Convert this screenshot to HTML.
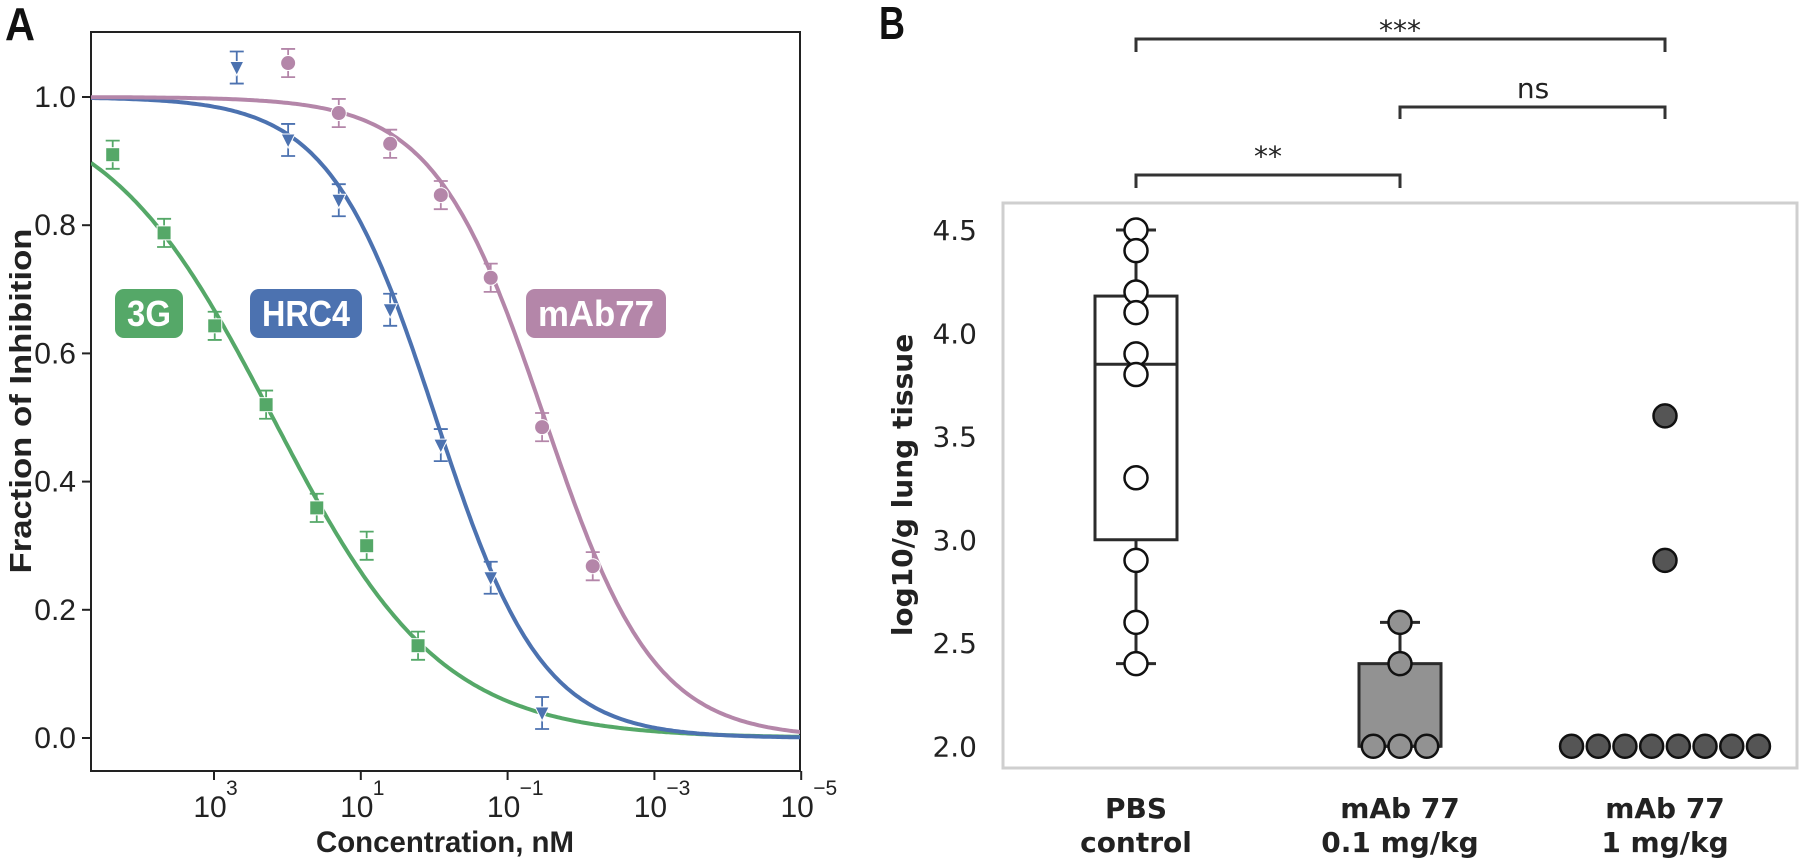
<!DOCTYPE html>
<html><head><meta charset="utf-8"><style>
html,body{margin:0;padding:0;background:#fff;}
svg{display:block;}
.nar{font-family:"Liberation Sans Narrow","Liberation Sans",sans-serif;}
.dv{font-family:"DejaVu Sans","Liberation Sans",sans-serif;}
</style></head><body>
<svg id="fig" width="1800" height="859" viewBox="0 0 1800 859" xmlns="http://www.w3.org/2000/svg">
<g id="panelA"></g>
<g id="panelB"></g>
</svg>
<script>
// ---------- Panel A data ----------
const seriesNames = ["3G", "HRC4", "mAb77"];
const logConc3G = [4.38, 3.68, 2.99, 2.29, 1.60, 0.92, 0.22];
const inhib3G = [0.91, 0.788, 0.643, 0.52, 0.359, 0.30, 0.144];
const logConcHRC4 = [2.69, 1.99, 1.30, 0.60, -0.09, -0.77, -1.47];
const inhibHRC4 = [1.046, 0.933, 0.839, 0.668, 0.457, 0.25, 0.039];
const logConcMAb = [1.99, 1.30, 0.60, -0.09, -0.77, -1.47, -2.16];
const inhibMAb = [1.053, 0.975, 0.927, 0.847, 0.718, 0.485, 0.268];
const errA = [0.022, 0.025, 0.022];
const fitLogIC50 = [2.2, -0.02, -1.5];
const fitHill = [0.38, 0.6, 0.58];
const yTicksA = [0.0, 0.2, 0.4, 0.6, 0.8, 1.0];
const xTickExpA = [3, 1, -1, -3, -5];

// ---------- Panel B data ----------
const groupsB = [["PBS", "control"], ["mAb 77", "0.1 mg/kg"], ["mAb 77", "1 mg/kg"]];
const pbsVals = [4.5, 4.4, 4.2, 4.1, 3.9, 3.8, 3.3, 2.9, 2.6, 2.4];
const pbsBox = [2.4, 3.0, 3.85, 4.18, 4.5];
const low77Vals = [2.6, 2.4, 2.0, 2.0, 2.0];
const low77Box = [2.0, 2.0, 2.0, 2.4, 2.6];
const high77Vals = [3.6, 2.9, 2.0, 2.0, 2.0, 2.0, 2.0, 2.0, 2.0, 2.0];
const yTicksB = [2.0, 2.5, 3.0, 3.5, 4.0, 4.5];
const sigLabels = ["**", "ns", "***"];

const NS = "http://www.w3.org/2000/svg";
function mk(parent, tag, attrs, text) {
  const e = document.createElementNS(NS, tag);
  for (const k in attrs) e.setAttribute(k, attrs[k]);
  if (text !== undefined) e.textContent = text;
  parent.appendChild(e);
  return e;
}

// ===== Panel A =====
const A = document.getElementById('panelA');
const aL = 91, aR = 800, aT = 32, aB = 771;
const xA = lg => 214 + (3 - lg) * 73.4;
const yA = v => 738 - v * 641;
const colors = ["#55a868", "#4c72b0", "#b486a9"];

let t = mk(A, 'text', {x: 5, y: 40, 'font-size': 46, 'font-weight': 'bold', class: 'nar', fill: '#111', textLength: 30, lengthAdjust: 'spacingAndGlyphs'}, 'A');



let fr = mk(A, 'rect', {x: aL, y: aT, width: aR - aL, height: aB - aT, fill: 'none', stroke: '#222', 'stroke-width': 2});



yTicksA.forEach(v => {
  const g = mk(A, 'g', {});
  
  
  mk(g, 'line', {x1: aL - 9, x2: aL, y1: yA(v), y2: yA(v), stroke: '#222', 'stroke-width': 2});
  mk(g, 'text', {x: 76, y: yA(v) + 10, 'font-size': 30, 'text-anchor': 'end', class: 'nar', fill: '#222'}, v.toFixed(1));
});
xTickExpA.forEach(e => {
  const g = mk(A, 'g', {});
  
  
  const x = xA(e);
  mk(g, 'line', {x1: x, x2: x, y1: aB, y2: aB + 9, stroke: '#222', 'stroke-width': 2});
  mk(g, 'text', {x: x - 4, y: 817, 'font-size': 30, 'text-anchor': 'middle', class: 'nar', fill: '#222'}, '10');
  mk(g, 'text', {x: x + 12, y: 795, 'font-size': 21, class: 'nar', fill: '#222'}, e < 0 ? '\u2212' + (-e) : String(e));
});
t = mk(A, 'text', {x: 445, y: 852, 'font-size': 30, 'font-weight': 'bold', 'text-anchor': 'middle', class: 'nar', fill: '#222', textLength: 258, lengthAdjust: 'spacingAndGlyphs'}, 'Concentration, nM');


t = mk(A, 'text', {x: 0, y: 0, 'font-size': 31, 'font-weight': 'bold', 'text-anchor': 'middle', class: 'nar', fill: '#222', transform: 'translate(31,401) rotate(-90)', textLength: 345, lengthAdjust: 'spacingAndGlyphs'}, 'Fraction of Inhibition');



const defs = mk(A, 'defs', {});
const cp = mk(defs, 'clipPath', {id: 'clipA'});
mk(cp, 'rect', {x: aL, y: aT, width: aR - aL, height: aB - aT});

const lmin = 3 + (214 - aL) / 73.4, lmax = -5;
fitLogIC50.forEach((ic, i) => {
  let d = '';
  for (let k = 0; k <= 300; k++) {
    const lg = lmin + (lmax - lmin) * k / 300;
    const v = 1 / (1 + Math.pow(10, fitHill[i] * (ic - lg)));
    d += (k ? 'L' : 'M') + xA(lg).toFixed(1) + ',' + yA(v).toFixed(1);
  }
  const p = mk(A, 'path', {d: d, fill: 'none', stroke: colors[i], 'stroke-width': 4, 'clip-path': 'url(#clipA)'});
  
  
});

const ptsX = [logConc3G, logConcHRC4, logConcMAb];
const ptsY = [inhib3G, inhibHRC4, inhibMAb];
ptsX.forEach((arr, i) => {
  arr.forEach((lg, j) => {
    const x = xA(lg), v = ptsY[i][j], y = yA(v);
    const g = mk(A, 'g', {});
    
    
    const y1 = yA(v + errA[i]), y2 = yA(v - errA[i]);
    mk(g, 'path', {d: `M${x},${y1}V${y2}M${x-7},${y1}H${x+7}M${x-7},${y2}H${x+7}`, stroke: colors[i], 'stroke-width': 1.8, fill: 'none'});
    if (i === 0) mk(g, 'rect', {x: x - 7, y: y - 7, width: 14, height: 14, fill: colors[i], stroke: '#fff', 'stroke-width': 1});
    else if (i === 1) mk(g, 'path', {d: `M${x-7},${y-6}L${x+7},${y-6}L${x},${y+8}Z`, fill: colors[i], stroke: '#fff', 'stroke-width': 1});
    else mk(g, 'circle', {cx: x, cy: y, r: 7.5, fill: colors[i], stroke: '#fff', 'stroke-width': 1});
  });
});

const labBoxes = [[115, 68, 44], [250, 112, 88], [526, 140, 116]];
labBoxes.forEach((b, i) => {
  const g = mk(A, 'g', {});
  
  
  mk(g, 'rect', {x: b[0], y: 289, width: b[1], height: 49, rx: 9, fill: colors[i]});
  mk(g, 'text', {x: b[0] + b[1] / 2, y: 326, 'font-size': 36, 'font-weight': 'bold', 'text-anchor': 'middle', class: 'nar', fill: '#fff', textLength: b[2], lengthAdjust: 'spacingAndGlyphs'}, seriesNames[i]);
});

// ===== Panel B =====
const B = document.getElementById('panelB');
const bL = 1003, bR = 1797, bT = 203, bB = 768;
const yB = v => 230 + (4.5 - v) * 206.5;
const gx = [1136, 1400, 1665];
const ink = '#2b2b2b';

t = mk(B, 'text', {x: 879, y: 39, 'font-size': 46, 'font-weight': 'bold', class: 'nar', fill: '#111', textLength: 26, lengthAdjust: 'spacingAndGlyphs'}, 'B');



fr = mk(B, 'rect', {x: bL, y: bT, width: bR - bL, height: bB - bT, fill: 'none', stroke: '#cfcfcf', 'stroke-width': 3});



yTicksB.forEach(v => {
  const tt = mk(B, 'text', {x: 977, y: yB(v) + 10, 'font-size': 28, 'text-anchor': 'end', class: 'dv', fill: '#222'}, v.toFixed(1));
  
  
});
t = mk(B, 'text', {x: 0, y: 0, 'font-size': 28, 'font-weight': 'bold', 'text-anchor': 'middle', class: 'dv', fill: '#222', transform: 'translate(912,485) rotate(-90)'}, 'log10/g lung tissue');



groupsB.forEach((lab, i) => {
  const tt = mk(B, 'text', {x: gx[i], y: 818, 'font-size': 28, 'font-weight': 'bold', 'text-anchor': 'middle', class: 'dv', fill: '#222'});
  
  
  mk(tt, 'tspan', {x: gx[i], dy: 0}, lab[0]);
  mk(tt, 'tspan', {x: gx[i], dy: 34}, lab[1]);
});

function boxplot(cx, st, fill, name) {
  const g = mk(B, 'g', {});
  
  
  mk(g, 'line', {x1: cx, x2: cx, y1: yB(st[0]), y2: yB(st[1]), stroke: ink, 'stroke-width': 3});
  mk(g, 'line', {x1: cx, x2: cx, y1: yB(st[3]), y2: yB(st[4]), stroke: ink, 'stroke-width': 3});
  mk(g, 'line', {x1: cx - 20, x2: cx + 20, y1: yB(st[0]), y2: yB(st[0]), stroke: ink, 'stroke-width': 3});
  mk(g, 'line', {x1: cx - 20, x2: cx + 20, y1: yB(st[4]), y2: yB(st[4]), stroke: ink, 'stroke-width': 3});
  mk(g, 'rect', {x: cx - 41, y: yB(st[3]), width: 82, height: Math.max(0, yB(st[1]) - yB(st[3])), fill: fill, stroke: ink, 'stroke-width': 3});
  mk(g, 'line', {x1: cx - 41, x2: cx + 41, y1: yB(st[2]), y2: yB(st[2]), stroke: ink, 'stroke-width': 3});
}
boxplot(gx[0], pbsBox, '#fff', 'box-pbs-control');
boxplot(gx[1], low77Box, '#929292', 'box-mab77-0-1');

function swarm(cx, vals, fill, name) {
  const counts = {};
  vals.forEach(v => { counts[v] = (counts[v] || 0) + 1; });
  const seen = {};
  vals.forEach(v => {
    const n = counts[v]; const k = seen[v] = (seen[v] || 0) + 1;
    const x = cx + (k - 1 - (n - 1) / 2) * 26.7;
    const c = mk(B, 'circle', {cx: x, cy: yB(v), r: 11.5, fill: fill, stroke: '#111', 'stroke-width': 2.5});
    
    
  });
}
swarm(gx[0], pbsVals, '#fff', 'point-pbs-control');
swarm(gx[1], low77Vals, '#929292', 'point-mab77-0-1');
swarm(gx[2], high77Vals, '#555555', 'point-mab77-1');

const brackets = [[0, 1, 175, 188], [1, 2, 107, 119], [0, 2, 39, 52]];
const labelPos = [[1268, 158], [1533, 98], [1400, 32]];
brackets.forEach((b, i) => {
  const g = mk(B, 'g', {});
  
  
  mk(g, 'path', {d: `M${gx[b[0]]},${b[3]}V${b[2]}H${gx[b[1]]}V${b[3]}`, fill: 'none', stroke: '#333', 'stroke-width': 3});
  mk(g, 'text', {x: labelPos[i][0], y: i === 1 ? labelPos[i][1] : labelPos[i][1] + 8, 'font-size': 28, 'text-anchor': 'middle', class: 'dv', fill: '#222'}, sigLabels[i]);
});
</script>
</body></html>
